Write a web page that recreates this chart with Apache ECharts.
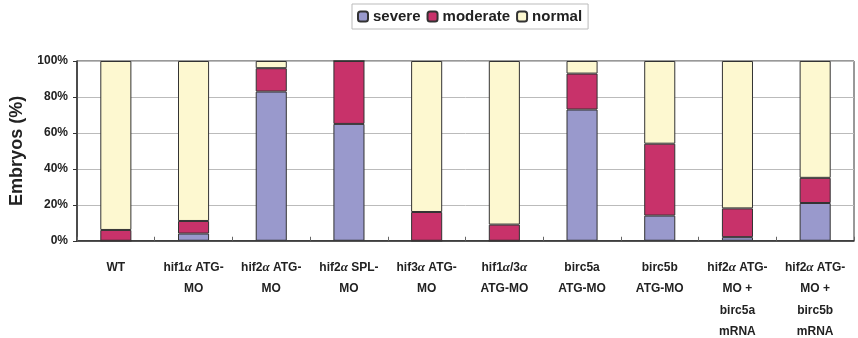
<!DOCTYPE html>
<html><head><meta charset="utf-8">
<script src="https://cdn.jsdelivr.net/npm/echarts@6/dist/echarts.min.js"></script>
<style>html,body{margin:0;padding:0;background:#fff}#c{width:858px;height:338px}</style>
</head><body><div id="c"></div>
<script>
var categories = ["WT","hif1α ATG-\nMO","hif2α ATG-\nMO","hif2α SPL-\nMO","hif3α ATG-\nMO","hif1α/3α\nATG-MO","birc5a\nATG-MO","birc5b\nATG-MO","hif2α ATG-\nMO +\nbirc5a\nmRNA","hif2α ATG-\nMO +\nbirc5b\nmRNA"];
var severe   = [0, 4, 83, 65, 0, 0, 73, 14, 2, 21];
var moderate = [6, 7, 13, 35, 16, 9, 20, 40, 16, 14];
var normal   = [94, 89, 4, 0, 84, 91, 7, 46, 82, 65];
var seriesNames = ["severe","moderate","normal"];
var yTicks = [0,20,40,60,80,100];

var chart = echarts.init(document.getElementById('c'), null, {renderer:'canvas'});
var font = '"Liberation Sans", Arial, sans-serif';
function fmt(v){
  return v.split('\n').map(function(line){
    return line.split('α').map(function(p){return p ? '{b|'+p+'}' : '';}).join('{a|α}');
  }).join('\n');
}
var rich = {
  b:{fontFamily:font,fontWeight:'bold',fontSize:12,color:'#222',lineHeight:21.5},
  a:{fontFamily:'"Liberation Serif", serif',fontStyle:'italic',fontWeight:'bold',fontSize:13,color:'#222',lineHeight:21.5}
};
var border = {borderColor:'#333',borderWidth:1};
chart.setOption({
  animation:false,
  legend:{
    data:seriesNames, top:4, left:352,
    itemWidth:10,itemHeight:10,itemGap:6,
    padding:[5,6,5,5],
    borderColor:'#bbb',borderWidth:1,
    textStyle:{fontFamily:font,fontWeight:'bold',fontSize:15,color:'#222',padding:[0,0,0,0]}
  },
  grid:{left:77,right:4,top:61,bottom:93,show:true,borderColor:'#333',borderWidth:1,backgroundColor:'transparent'},
  xAxis:{
    type:'category',data:categories,
    axisLine:{lineStyle:{color:'#333',width:1.5}},
    axisTick:{show:true,inside:true,length:4,lineStyle:{color:'#666'}},
    axisLabel:{interval:0,margin:16,formatter:fmt,rich:rich,align:'center',verticalAlign:'top'}
  },
  yAxis:{
    type:'value',min:0,max:100,interval:20,
    name:'Embryos (%)',nameLocation:'middle',nameGap:44,
    nameTextStyle:{fontFamily:font,fontWeight:'bold',fontSize:18,color:'#222'},
    axisLine:{show:true,lineStyle:{color:'#333',width:1.5}},
    axisTick:{show:true,length:4,lineStyle:{color:'#333'}},
    axisLabel:{formatter:'{value}%',fontFamily:font,fontWeight:'bold',fontSize:12,color:'#222',margin:9},
    splitLine:{lineStyle:{color:'#bbb',width:1}}
  },
  series:[
    {name:'severe',type:'bar',stack:'a',barWidth:'40%',data:severe,itemStyle:Object.assign({color:'#9999cc'},border)},
    {name:'moderate',type:'bar',stack:'a',barWidth:'40%',data:moderate,itemStyle:Object.assign({color:'#c8326a'},border)},
    {name:'normal',type:'bar',stack:'a',barWidth:'40%',data:normal,itemStyle:Object.assign({color:'#fdf8d0'},border)}
  ]
});
</script></body></html>
